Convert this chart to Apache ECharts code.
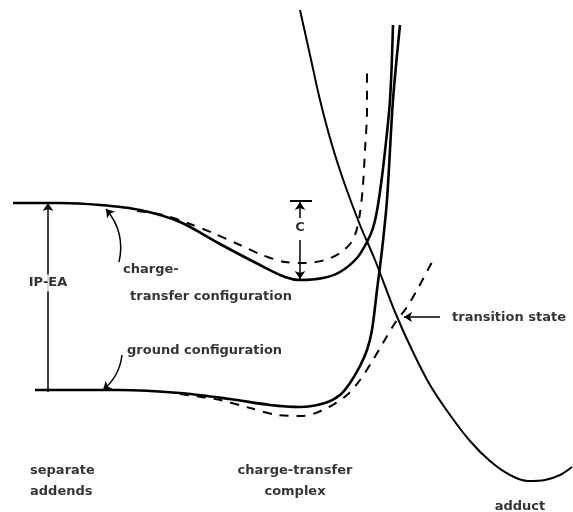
<!DOCTYPE html>
<html>
<head>
<meta charset="utf-8">
<script src="https://cdn.jsdelivr.net/npm/echarts@6/dist/echarts.min.js"></script>
<style>
  html, body { margin: 0; padding: 0; background: #fff; }
  #main { width: 573px; height: 512px; }
</style>
</head>
<body>
<div id="main"></div>
<script>
// reaction coordinate (x) vs. energy (y grows downward)
var ctSolid = [[13,203],[60,203],[100,205],[140,210],[180,222],[220,244],[260,265],[285,277],[300,280],
    [323,278],[340,272],[357,258],[367,242],[373,228],[378,205],[384,160],[390,100],[393,25]];
var ctDashed = [[137,211],[163,215],[190,224],[213,233],[240,245],[262,255],[285,262],[305,263],
    [325,260],[340,253],[350,244],[356,232],[360,213],[363,185],[365,150],[367,110],[367,73]];
var groundSolid = [[35,390],[120,390],[180,393],[230,399],[270,405],[300,407],[325,403],[340,395],
    [350,383],[360,366],[367,350],[372,330],[377,290],[382,250],[387,200],[393,100],[400,25]];
var groundDashed = [[180,394],[220,400],[250,408],[277,415],[303,416],[327,408],[347,395],
    [360,380],[373,360],[383,343],[395,323],[407,307],[417,290],[432,262]];
var adductCurve = [[300,10],[310,55],[320,100],[332,145],[345,185],[360,225],[375,260],[395,312],
    [412,350],[430,385],[450,415],[470,441],[490,461],[510,475],[528,481],[545,480],[560,475],[572,467]];

// annotation arrows [from, to, curveness]
var arrows = [
    [[48,392],[48,203],0],
    [[300,218],[300,202],0],
    [[300,240],[300,279],0],
    [[440,317],[404,317],0],
    [[119,262],[106,209],-0.25],
    [[122,355],[103,390],0.2]
];
var capBar = [[[290,201],[312,201]]];

var labels = [
    ['IP-EA', 48, 283, 'center'],
    ['C', 300, 228, 'center'],
    ['charge-', 123, 270, 'left'],
    ['transfer configuration', 130, 297, 'left'],
    ['ground configuration', 127, 351, 'left'],
    ['transition state', 452, 318, 'left'],
    ['separate', 30, 471, 'left'],
    ['addends', 30, 492, 'left'],
    ['charge-transfer', 295, 471, 'center'],
    ['complex', 295, 492, 'center'],
    ['adduct', 520, 507, 'center']
];

var font = '"DejaVu Sans", sans-serif';

function curve(name, data, width, type) {
    return {
        name: name,
        type: 'line',
        data: data,
        smooth: 0.3,
        showSymbol: false,
        silent: true,
        lineStyle: { color: '#000', width: width, type: type || 'solid' }
    };
}

var myChart = echarts.init(document.getElementById('main'));
var option = {
    animation: false,
    backgroundColor: '#fff',
    grid: { left: 0, right: 0, top: 0, bottom: 0 },
    xAxis: { type: 'value', min: 0, max: 573, show: false },
    yAxis: { type: 'value', min: 0, max: 512, inverse: true, show: false },
    series: [
        curve('charge-transfer configuration', ctSolid, 2.6),
        curve('charge-transfer dashed', ctDashed, 2, [9, 8]),
        curve('ground configuration', groundSolid, 2.6),
        curve('ground dashed', groundDashed, 2, [9, 8]),
        curve('adduct', adductCurve, 2),
        {
            type: 'lines',
            coordinateSystem: 'cartesian2d',
            silent: true,
            symbol: ['none', 'arrow'],
            symbolSize: 8,
            lineStyle: { color: '#000', width: 1.5, opacity: 1 },
            data: arrows.map(function (a) {
                return { coords: [a[0], a[1]], lineStyle: { curveness: a[2] } };
            })
        },
        {
            type: 'lines',
            coordinateSystem: 'cartesian2d',
            silent: true,
            symbol: 'none',
            lineStyle: { color: '#000', width: 2, opacity: 1 },
            data: capBar.map(function (c) { return { coords: c }; })
        },
        {
            type: 'scatter',
            silent: true,
            symbolSize: 0,
            z: 10,
            data: labels.map(function (l) {
                var boxed = l[0] === 'IP-EA' || l[0] === 'C';
                return {
                    value: [l[1], l[2]],
                    label: {
                        show: true,
                        position: 'inside',
                        formatter: l[0],
                        align: l[3],
                        verticalAlign: 'middle',
                        color: '#000',
                        fontFamily: font,
                        fontWeight: 'bold',
                        fontSize: 13,
                        backgroundColor: boxed ? '#fff' : 'transparent',
                        padding: boxed ? [2, 1] : 0
                    }
                };
            })
        }
    ]
};
myChart.setOption(option);
</script>
</body>
</html>
